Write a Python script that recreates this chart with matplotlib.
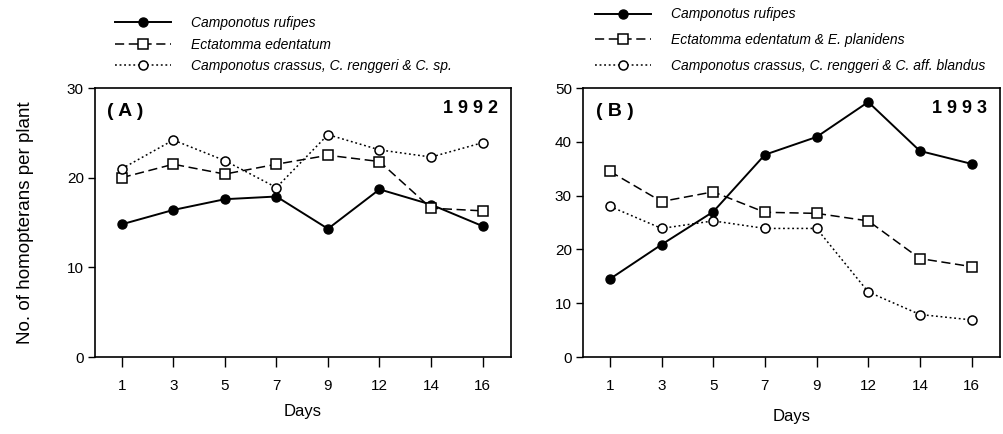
import matplotlib
matplotlib.use("Agg")
import matplotlib.pyplot as plt

plt.rcParams['font.family'] = ['Liberation Sans', 'DejaVu Sans']

days = ["1", "3", "5", "7", "9", "12", "14", "16"]

# 1992
rufipes_92 = [14.8, 16.4, 17.6, 17.9, 14.3, 18.7, 17.0, 14.6]
ectatomma_92 = [20.0, 21.5, 20.4, 21.5, 22.5, 21.8, 16.6, 16.3]
crassus_92 = [21.0, 24.2, 21.9, 18.9, 24.8, 23.1, 22.3, 23.9]

# 1993
rufipes_93 = [14.5, 20.9, 27.0, 37.6, 40.9, 47.4, 38.3, 35.9]
ectatomma_93 = [34.5, 28.9, 30.7, 26.9, 26.7, 25.3, 18.3, 16.8]
crassus_93 = [28.0, 23.9, 25.3, 23.9, 23.9, 12.1, 7.9, 6.9]

labels_92 = ["Camponotus rufipes", "Ectatomma edentatum",
             "Camponotus crassus, C. renggeri & C. sp."]
labels_93 = ["Camponotus rufipes", "Ectatomma edentatum & E. planidens",
             "Camponotus crassus, C. renggeri & C. aff. blandus"]

fig = plt.figure(figsize=(10.04, 4.34), dpi=100)
axA = fig.add_axes([0.0946, 0.1774, 0.4143, 0.6198])
axB = fig.add_axes([0.5807, 0.1774, 0.4153, 0.6198])


def panel(ax, r, e, c, labels, ymax, tag, year, legpos, spacing, xpad):
    x = list(range(len(days)))
    ax.plot(x, r, "-", color="black", lw=1.4, marker="o", ms=6.5,
            mfc="black", mec="black", label=labels[0])
    ax.plot(x, e, color="black", lw=1.1, dashes=(6, 3), marker="s", ms=6.5,
            mfc="white", mec="black", mew=1.1, label=labels[1])
    ax.plot(x, c, color="black", lw=1.1, dashes=(1.2, 1.8), marker="o", ms=6.5,
            mfc="white", mec="black", mew=1.1, label=labels[2])
    ax.set_xlim(-0.52, 7.55)
    ax.set_ylim(0, ymax)
    ax.set_xticks(x)
    ax.set_xticklabels(days)
    ax.set_yticks(range(0, ymax + 1, 10))
    ax.tick_params(axis="x", direction="out", length=7, width=1, pad=9, labelsize=11)
    ax.tick_params(axis="y", direction="out", length=5, width=1, pad=3, labelsize=11)
    for s in ax.spines.values():
        s.set_linewidth(1.2)
    ax.set_xlabel("Days", fontsize=12, labelpad=xpad)
    ax.text(0.03, 0.945, tag, transform=ax.transAxes, fontsize=14,
            fontweight="bold", ha="left", va="top")
    ax.text(0.97, 0.955, year, transform=ax.transAxes, fontsize=13,
            fontweight="bold", ha="right", va="top")
    leg = fig.legend(handles=ax.get_lines(), loc="upper left",
                     bbox_to_anchor=legpos, frameon=False, fontsize=10,
                     handlelength=4.0, handletextpad=1.45, borderpad=0,
                     borderaxespad=0, labelspacing=spacing)
    for t in leg.get_texts():
        t.set_fontstyle("italic")


panel(axA, rufipes_92, ectatomma_92, crassus_92, labels_92, 30,
      "( A )", "1 9 9 2", (0.115, 0.963), 0.55, 8)
panel(axB, rufipes_93, ectatomma_93, crassus_93, labels_93, 50,
      "( B )", "1 9 9 3", (0.593, 0.983), 0.85, 11)

axA.set_ylabel("No. of homopterans per plant", fontsize=13.5, labelpad=24)

fig.savefig("out.png", dpi=100)
